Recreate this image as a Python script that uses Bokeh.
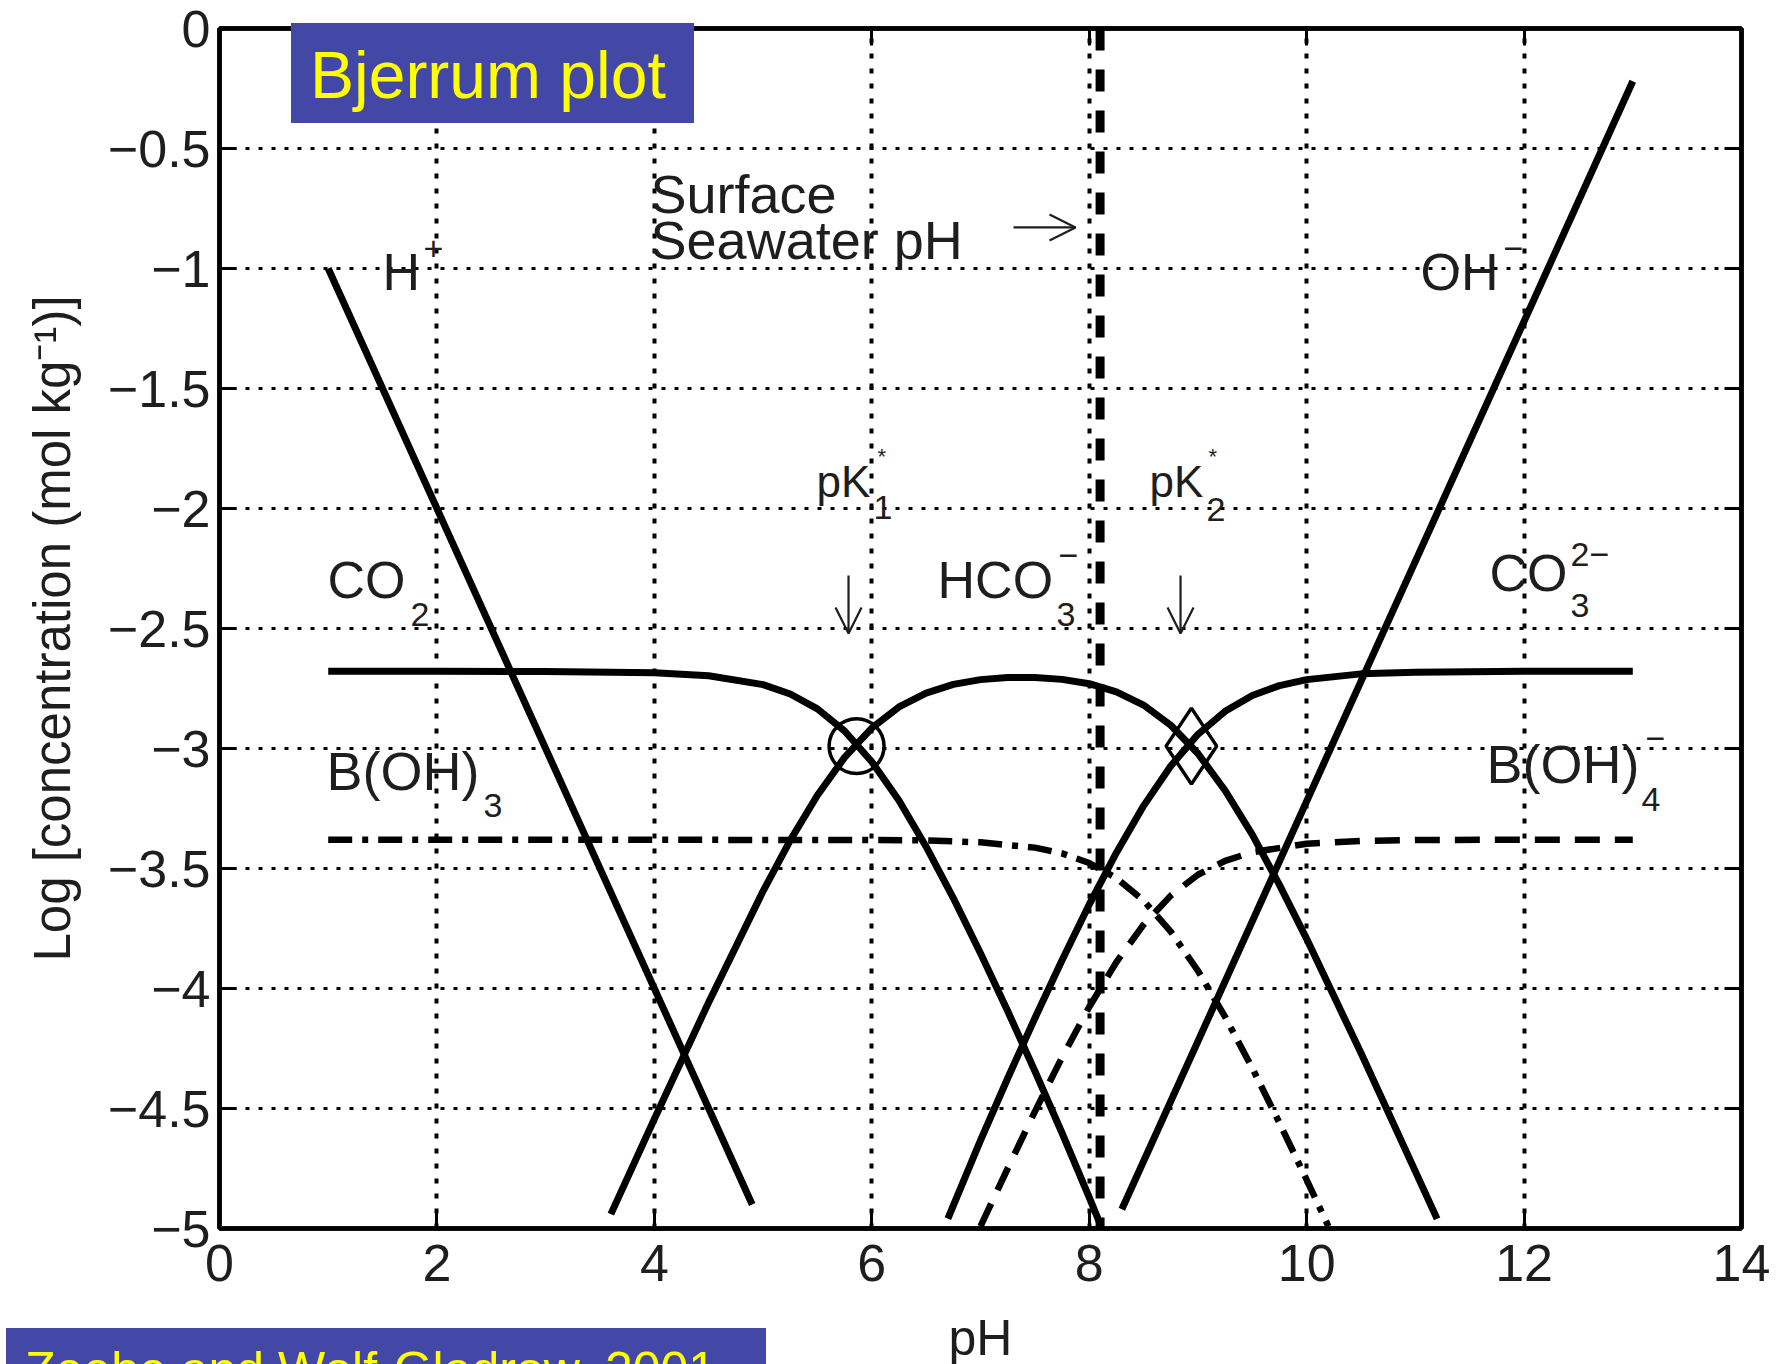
from bokeh.plotting import figure
from bokeh.models import Label, Arrow, OpenHead, Span, LinearAxis, FixedTicker, Div
from bokeh.layouts import column
from bokeh.embed import file_html
from bokeh.resources import INLINE

# ---------------- data ----------------
X_TICKS = [0, 2, 4, 6, 8, 10, 12, 14]
X_TICK_LABELS = ["0", "2", "4", "6", "8", "10", "12", "14"]
Y_TICKS = [0, -0.5, -1, -1.5, -2, -2.5, -3, -3.5, -4, -4.5, -5]
Y_TICK_LABELS = ["0", "−0.5", "−1", "−1.5", "−2", "−2.5", "−3", "−3.5", "−4", "−4.5", "−5"]

PH_H = [1.0, 4.9]
LOG_H = [-1.0, -4.9]

PH_OH = [8.3, 13.0]
LOG_OH = [-4.92, -0.22]

PH_CO2 = [1.0, 2.0, 3.0, 4.0, 4.5, 5.0, 5.25, 5.5, 5.75, 6.0, 6.25, 6.5, 6.75,
          7.0, 7.25, 7.5, 7.75, 8.0, 8.1]
LOG_CO2 = [-2.678, -2.678, -2.679, -2.684, -2.697, -2.734, -2.773, -2.835, -2.927,
           -3.055, -3.217, -3.409, -3.623, -3.853, -4.094, -4.344, -4.602, -4.870, -4.981]

PH_HCO3 = [3.6, 4.0, 4.5, 5.0, 5.25, 5.5, 5.75, 6.0, 6.25, 6.5, 6.75, 7.0, 7.25, 7.5,
           7.75, 8.0, 8.25, 8.5, 8.75, 9.0, 9.25, 9.5, 9.75, 10.0, 10.5, 11.0, 11.2]
LOG_HCO3 = [-4.940, -4.544, -4.057, -3.594, -3.383, -3.195, -3.037, -2.915, -2.827,
            -2.769, -2.733, -2.713, -2.704, -2.704, -2.712, -2.730, -2.764, -2.819,
            -2.903, -3.021, -3.175, -3.359, -3.568, -3.793, -4.269, -4.762, -4.960]

PH_CO3 = [6.7, 7.0, 7.25, 7.5, 7.75, 8.0, 8.25, 8.5, 8.75, 9.0, 9.25, 9.5, 9.75,
          10.0, 10.5, 11.0, 12.0, 13.0]
LOG_CO3 = [-4.959, -4.633, -4.374, -4.124, -3.882, -3.650, -3.434, -3.239, -3.073,
           -2.941, -2.845, -2.779, -2.738, -2.713, -2.689, -2.682, -2.678, -2.678]

PH_BOH3 = [1.0, 6.0, 6.5, 7.0, 7.5, 7.75, 8.0, 8.25, 8.5, 8.75, 9.0, 9.25, 9.5,
           9.75, 10.0, 10.2]
LOG_BOH3 = [-3.380, -3.381, -3.383, -3.391, -3.413, -3.437, -3.477, -3.540, -3.634,
            -3.763, -3.926, -4.118, -4.332, -4.560, -4.797, -4.991]

PH_BOH4 = [7.0, 7.25, 7.5, 7.75, 8.0, 8.25, 8.5, 8.75, 9.0, 9.25, 9.5, 10.0, 10.5,
           11.0, 13.0]
LOG_BOH4 = [-4.991, -4.750, -4.513, -4.287, -4.077, -3.890, -3.734, -3.613, -3.526,
            -3.468, -3.432, -3.397, -3.385, -3.381, -3.380]

PK1_MARK_X = [5.86]
PK1_MARK_Y = [-2.99]
PK2_MARK_X = [8.94]
PK2_MARK_Y = [-2.99]

SURFACE_PH = 8.1

TITLE_TEXT = "Bjerrum plot"
CITATION_TEXT = "Zeebe and Wolf-Gladrow, 2001"

# ---------------- styling ----------------
FONT = "Liberation Sans"
TXT = "#1e1e1e"
BLUE = "#4348a6"
YELLOW = "#ffff00"

p = figure(frame_width=1522, frame_height=1200,
           min_border_left=219, min_border_right=39,
           min_border_top=28, min_border_bottom=136,
           x_range=(0, 14), y_range=(-5, 0),
           output_backend="svg", toolbar_location=None,
           background_fill_color="white", border_fill_color="white")

p.outline_line_color = "black"
p.outline_line_width = 4.5

p.xaxis.ticker = FixedTicker(ticks=X_TICKS)
p.yaxis.ticker = FixedTicker(ticks=Y_TICKS)
p.xaxis.major_label_overrides = dict(zip(X_TICKS, X_TICK_LABELS))
p.yaxis.major_label_overrides = dict(zip(Y_TICKS, Y_TICK_LABELS))

for ax in (p.xaxis, p.yaxis):
    ax.major_tick_in = 17
    ax.major_tick_out = 0
    ax.major_tick_line_width = 3
    ax.major_tick_line_color = "black"
    ax.minor_tick_line_color = None
    ax.axis_line_width = 4.5
    ax.axis_line_color = "black"
    ax.major_label_text_font = FONT
    ax.major_label_text_font_size = "52px"
    ax.major_label_text_color = TXT
    ax.axis_label_text_font = FONT
    ax.axis_label_text_font_style = "normal"
    ax.axis_label_text_color = TXT

p.xaxis.major_label_standoff = 16
p.yaxis.major_label_standoff = 9
p.xaxis.axis_label = "pH"
p.xaxis.axis_label_text_font_size = "50px"
p.xaxis.axis_label_standoff = 26
p.yaxis.axis_label = "Log [concentration (mol kg⁻¹)]"
p.yaxis.axis_label_text_font_size = "51px"
p.yaxis.axis_label_standoff = 24

top_ax = LinearAxis(ticker=FixedTicker(ticks=X_TICKS),
                    major_label_overrides={t: "" for t in X_TICKS})
right_ax = LinearAxis(ticker=FixedTicker(ticks=Y_TICKS),
                      major_label_overrides={t: "" for t in Y_TICKS})
for ax in (top_ax, right_ax):
    ax.major_tick_in = 17
    ax.major_tick_out = 0
    ax.major_tick_line_width = 3
    ax.minor_tick_line_color = None
    ax.axis_line_width = 4.5
    ax.major_label_text_font_size = "1px"
    ax.major_label_standoff = 0
p.add_layout(top_ax, "above")
p.add_layout(right_ax, "right")

p.xgrid.grid_line_color = "black"
p.xgrid.grid_line_width = 4
p.xgrid.grid_line_dash = "5 10"
p.ygrid.grid_line_color = "black"
p.ygrid.grid_line_width = 3
p.ygrid.grid_line_dash = "4 9"

# ---------------- curves ----------------
LW = 7
p.line(PH_H, LOG_H, line_width=LW, line_color="black")
p.line(PH_OH, LOG_OH, line_width=LW, line_color="black")
p.line(PH_CO2, LOG_CO2, line_width=LW, line_color="black", line_join="round")
p.line(PH_HCO3, LOG_HCO3, line_width=LW, line_color="black", line_join="round")
p.line(PH_CO3, LOG_CO3, line_width=LW, line_color="black", line_join="round")
p.line(PH_BOH3, LOG_BOH3, line_width=6.5, line_color="black", line_dash="24 10 6 10")
p.line(PH_BOH4, LOG_BOH4, line_width=6.5, line_color="black", line_dash="25 15")

p.scatter(PK1_MARK_X, PK1_MARK_Y, marker="circle", size=55, fill_color=None,
          line_color="black", line_width=3.5)
p.scatter(PK2_MARK_X, PK2_MARK_Y, marker="diamond", size=76, fill_color=None,
          line_color="black", line_width=3.5)

p.add_layout(Span(location=SURFACE_PH, dimension="height", line_color="black",
                  line_width=9, line_dash="22 19"))

# ---------------- annotations ----------------
def lab(text, x, y, size, color=TXT, baseline="alphabetic", **kw):
    p.add_layout(Label(x=x, y=y, text=text, text_font=FONT, text_font_size=size,
                       text_color=color, text_align="left",
                       text_baseline=baseline, **kw))

LARGE, BIG, SUB = "54px", "52px", "34px"
lab("H", 1.499, -1.0155, BIG)
lab("+", 1.877, -0.9157, SUB)
lab("Surface", 3.965, -0.6912, LARGE)
lab("Seawater pH", 3.965, -0.8792, LARGE)
lab("OH", 11.048, -1.0155, BIG)
lab("−", 11.811, -0.9157, SUB)
lab("pK", 5.492, -1.8865, "44px")
lab("*", 6.053, -1.7852, "22px")
lab("1", 6.016, -1.9947, SUB)
lab("pK", 8.555, -1.8865, "44px")
lab("*", 9.098, -1.7852, "22px")
lab("2", 9.079, -2.0027, SUB)
lab("HCO", 6.605, -2.2985, BIG)
lab("3", 7.699, -2.4407, SUB)
lab("−", 7.718, -2.1947, SUB)
lab("CO", 0.993, -2.2985, BIG)
lab("2", 1.757, -2.4407, SUB)
lab("B(OH)", 0.984, -3.0952, LARGE)
lab("3", 2.428, -3.2367, SUB)
lab("CO", 11.682, -2.2695, BIG)
lab("3", 12.428, -2.4027, SUB)
lab("2−", 12.428, -2.1907, SUB)
lab("B(OH)", 11.655, -3.0662, LARGE)
lab("4", 13.081, -3.2117, SUB)
lab("−", 13.117, -2.9572, SUB)

for xs, ys, xe, ye in [(7.304, -0.829, 7.874, -0.829),
                       (5.786, -2.279, 5.786, -2.521),
                       (8.840, -2.279, 8.840, -2.521)]:
    p.add_layout(Arrow(end=OpenHead(size=26, line_width=2.2, line_color=TXT),
                       x_start=xs, y_start=ys, x_end=xe, y_end=ye,
                       line_width=2.2, line_color=TXT))

# ---------------- boxed captions (overlaid on the page) ----------------
BOX_CSS = ("overflow:hidden;box-sizing:border-box;background:%s;color:%s;"
           "font-family:'Liberation Sans',sans-serif;white-space:nowrap;")

title_div = Div(
    text=('<div style="width:403px;height:100px;padding:19px 0 0 19px;'
          'font-size:66px;line-height:66px;' + BOX_CSS + '">%s</div>')
         % (BLUE, YELLOW, TITLE_TEXT),
    width=403, height=100, margin=(-1345, 0, 0, 291))

cite_div = Div(
    text=('<div style="width:760px;height:40px;padding:17px 0 0 19px;'
          'font-size:50px;line-height:50px;' + BOX_CSS + '">%s</div>')
         % (BLUE, YELLOW, CITATION_TEXT),
    width=760, height=40, margin=(1205, 0, 0, 6))

layout = column(p, title_div, cite_div, spacing=0)

open("out.html", "w").write(file_html(layout, INLINE))
